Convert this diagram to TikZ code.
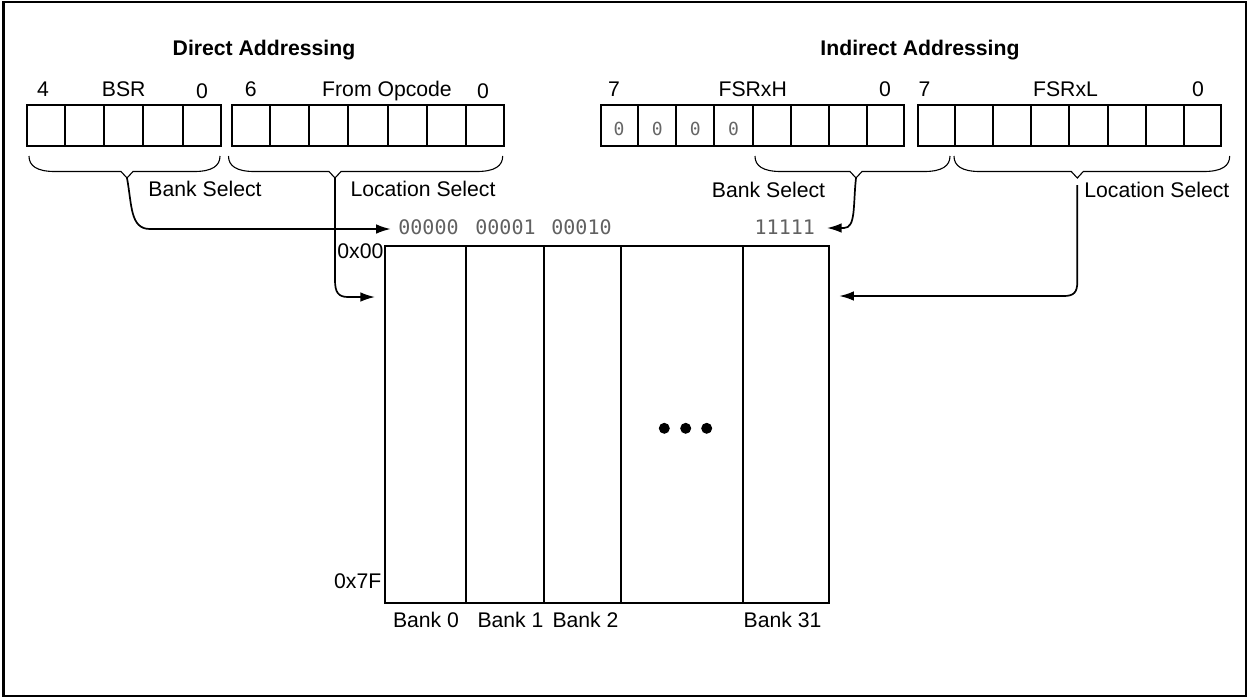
\documentclass[tikz,border=0pt]{standalone}
\usepackage{fontspec}
\setmainfont{Liberation Sans}
\newfontfamily\codefont{DejaVu Sans Mono}
\usetikzlibrary{calc,arrows.meta}
\newcommand\regbrace[4]{%
  \draw[bracepath] (#1,156) .. controls (#1,166) and (#1+8,171.5) .. (#1+26,171.5)
    -- (#2-6,171.5) -- (#2,178) -- (#2+6,171.5) -- (#3-26,171.5)
    .. controls (#3-8,171.5) and (#3,166) .. (#3,156);
  \coordinate (#4) at (#2,178);}
\begin{document}
\begin{tikzpicture}[x=0.5pt,y=-0.5pt,
  lbl/.style={inner sep=0pt, anchor=base, font=\fontsize{10.6}{12}\selectfont},
  head/.style={inner sep=0pt, anchor=base, font=\fontsize{10.6}{12}\selectfont\bfseries},
  code/.style={inner sep=0pt, anchor=base west, font=\codefont\fontsize{10}{12}\selectfont, text=black!62},
  bitzero/.style={inner sep=0pt, font=\codefont\fontsize{9}{10}\selectfont, text=black!60},
  regbox/.style={draw, line width=1pt, inner sep=0pt, minimum height=20.5pt, anchor=north west},
  bankbox/.style={draw, line width=1pt, inner sep=0pt, minimum height=178.35pt, anchor=north west},
  bracepath/.style={line width=0.55pt},
  divider/.style={line width=1pt},
  link/.style={line width=0.85pt, -{Latex[length=7.3pt,width=4.8pt]}},
  dot/.style={circle, fill, inner sep=0pt, minimum size=5.5pt}
]
\useasboundingbox (0,0) rectangle (1249,698);
\draw[line width=1.2pt] (3.5,2) rectangle (1246,696);

% headings
\node[head] (hdDirect) at (264,55) {Direct Addressing};
\node[head] (hdIndirect) at (920,55) {Indirect Addressing};

% registers
\node[regbox, minimum width=97.15pt] (bsr) at (25.7,104) {};
\node[regbox, minimum width=136.3pt] (opc) at (230.7,104) {};
\node[regbox, minimum width=151.65pt] (fsrh) at (600,104) {};
\node[regbox, minimum width=151.9pt] (fsrl) at (916.5,104) {};
\foreach \i in {1,...,4}
  \draw[divider] ($(bsr.north west)!{\i/5}!(bsr.north east)$) -- ($(bsr.south west)!{\i/5}!(bsr.south east)$);
\foreach \i in {1,...,6}
  \draw[divider] ($(opc.north west)!{\i/7}!(opc.north east)$) -- ($(opc.south west)!{\i/7}!(opc.south east)$);
\foreach \i in {1,...,7}{
  \draw[divider] ($(fsrh.north west)!{\i/8}!(fsrh.north east)$) -- ($(fsrh.south west)!{\i/8}!(fsrh.south east)$);
  \draw[divider] ($(fsrl.north west)!{\i/8}!(fsrl.north east)$) -- ($(fsrl.south west)!{\i/8}!(fsrl.south east)$);
}
\foreach \i in {0,...,3}
  \node[bitzero] (z\i) at ($(fsrh.west)!{(\i+0.5)/8}!(fsrh.east)+(0,3.5)$) {0};

% bit labels
\node[lbl] (bsr4) at (43,96) {4};
\node[lbl] (bsrName) at (123.7,96) {BSR};
\node[lbl] (bsr0) at (202,98) {0};
\node[lbl] (opc6) at (250.7,96) {6};
\node[lbl] (opcName) at (387,96) {From Opcode};
\node[lbl] (opc0) at (483,98) {0};
\node[lbl] (fh7) at (614,96) {7};
\node[lbl] (fhName) at (752.7,96) {FSRxH};
\node[lbl] (fh0) at (885,96) {0};
\node[lbl] (fl7) at (924.5,96) {7};
\node[lbl] (flName) at (1065.5,96) {FSRxL};
\node[lbl] (fl0) at (1198,96) {0};

% braces
\regbrace{29}{127}{220}{bsrTip}
\regbrace{228.5}{335}{502.7}{opTip}
\regbrace{755}{856}{950}{fhTip}
\regbrace{954}{1077.3}{1229.7}{flTip}

\node[lbl] (bsLeft) at (205,196.7) {Bank Select};
\node[lbl] (lsLeft) at (423,196.7) {Location Select};
\node[lbl] (bsRight) at (768.5,197) {Bank Select};
\node[lbl, anchor=base west] (lsRight) at (1084,197) {Location Select};

% memory banks
\node[bankbox, minimum width=40.35pt] (bank0) at (384.3,245) {};
\node[bankbox, minimum width=38.85pt] (bank1) at (465,245) {};
\node[bankbox, minimum width=38.65pt] (bank2) at (542.7,245) {};
\node[bankbox, minimum width=60.85pt] (bankN) at (620,245) {};
\node[bankbox, minimum width=43.15pt] (bank31) at (741.7,245) {};

\node[dot] (d1) at (664.3,428.3) {};
\node[dot] (d2) at (685.7,428.3) {};
\node[dot] (d3) at (706.7,428.3) {};

% bank codes
\node[code] (c0) at (398,234.3) {00000};
\node[code] (c1) at (475,234.3) {00001};
\node[code] (c2) at (551,234.3) {00010};
\node[code] (c31) at (754.3,234.3) {11111};

% addresses
\node[lbl, anchor=base west] (a00) at (337,258) {0x00};
\node[lbl, anchor=base east] (a7f) at (381.7,588.3) {0x7F};

% bank names
\node[lbl] (l0) at (426,627.3) {Bank 0};
\node[lbl] (l1) at (510.5,627.3) {Bank 1};
\node[lbl] (l2) at (585.5,627.3) {Bank 2};
\node[lbl] (l31) at (782.5,627.3) {Bank 31};

% connectors
\coordinate (bankIn) at (390.7,229);
\coordinate (locIn) at (375,297);
\coordinate (bank31In) at (827,228);
\coordinate (memIn) at (839.3,296);
\coordinate (flStart) at (1077.3,185);

\draw[link] (bsrTip) .. controls (132,205) and (130,229) .. (150,229) -- (bankIn);
\draw[link] (opTip) -- (335,280) .. controls (335,292) and (338,297) .. (348,297) -- (locIn);
\draw[link] (fhTip) .. controls (853,205) and (856,228) .. (844,228) -- (bank31In);
\draw[link] (flStart) -- (1077.3,282) .. controls (1077.3,292) and (1074,296) .. (1064,296) -- (memIn);
\end{tikzpicture}
\end{document}
